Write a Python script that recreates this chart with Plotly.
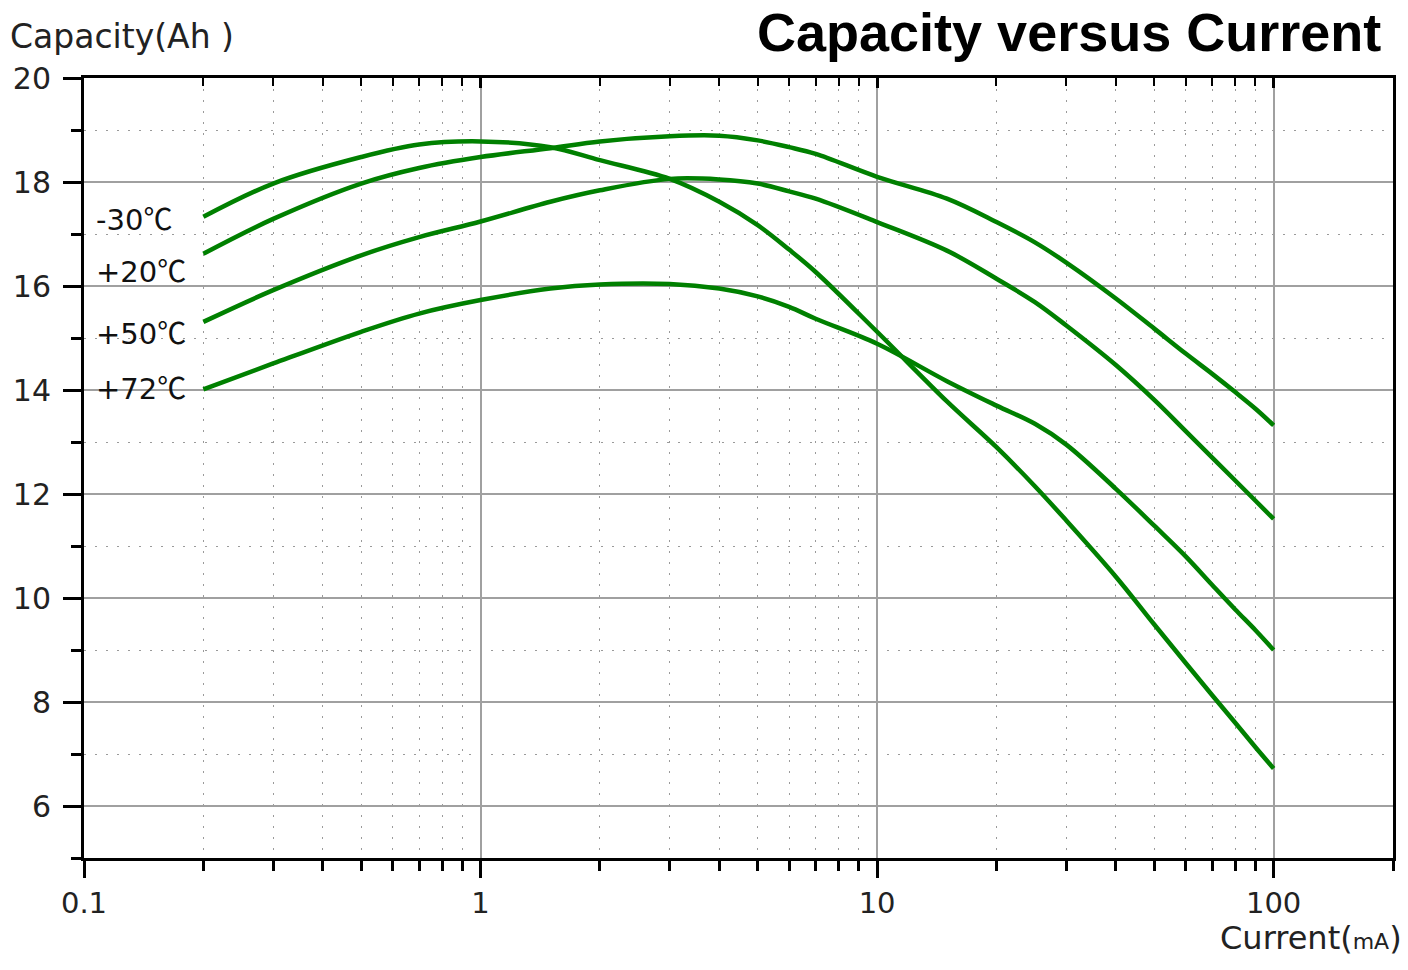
import plotly.graph_objects as go

# ---- data ----
current_mA = [0.2, 0.3, 0.5, 0.7, 1, 1.5, 2, 3, 4, 5, 6, 7, 10, 15, 20, 25, 30, 40, 50, 60, 70, 80, 90, 100]
cap_m30 = [17.33, 17.97, 18.48, 18.72, 18.78, 18.67, 18.42, 18.06, 17.62, 17.17, 16.70, 16.27, 15.12, 13.78,
           12.90, 12.15, 11.49, 10.41, 9.49, 8.75, 8.13, 7.60, 7.13, 6.72]
cap_p20 = [16.62, 17.29, 17.97, 18.27, 18.48, 18.65, 18.78, 18.88, 18.89, 18.80, 18.67, 18.54, 18.10, 17.68,
           17.23, 16.84, 16.45, 15.76, 15.18, 14.70, 14.31, 13.96, 13.64, 13.32]
cap_p50 = [15.31, 15.92, 16.59, 16.94, 17.24, 17.62, 17.84, 18.06, 18.05, 17.97, 17.82, 17.68, 17.23, 16.68,
           16.14, 15.69, 15.24, 14.48, 13.81, 13.21, 12.70, 12.26, 11.87, 11.52]
cap_p72 = [14.01, 14.51, 15.12, 15.47, 15.73, 15.95, 16.03, 16.04, 15.95, 15.80, 15.60, 15.37, 14.89, 14.17,
           13.70, 13.35, 12.95, 12.10, 11.39, 10.80, 10.25, 9.78, 9.38, 9.00]
series_names = ["-30", "+20", "+50", "+72"]
label_y = [17.33, 16.33, 15.14, 14.07]

x_major = [0.1, 1, 10, 100]
x_major_text = ["0.1", "1", "10", "100"]
x_minor = [m * d for d in (0.1, 1, 10, 100) for m in range(2, 10) if m * d <= 200] + [200]
y_major = [6, 8, 10, 12, 14, 16, 18, 20]
y_minor = [5, 7, 9, 11, 13, 15, 17, 19]

GREEN = "#008000"
FONT = "DejaVu Sans"

fig = go.Figure()
for name, vals in zip(series_names, [cap_m30, cap_p20, cap_p50, cap_p72]):
    fig.add_trace(go.Scatter(x=current_mA, y=vals, mode="lines", name=name + "℃",
                             line=dict(color=GREEN, width=4.5, shape="spline", smoothing=1.0),
                             showlegend=False, hoverinfo="skip"))

# invisible trace to activate the top (inside-tick) axis
fig.add_trace(go.Scatter(x=current_mA, y=cap_m30, xaxis="x2", mode="lines",
                         line=dict(width=0, color="rgba(0,0,0,0)"), showlegend=False, hoverinfo="skip"))

for name, yv in zip(series_names, label_y):
    fig.add_annotation(x=-0.976, y=yv, xref="x", yref="y",
                       text=name + "<span style='font-family:Noto Sans CJK SC'>℃</span>",
                       showarrow=False, xanchor="left", yanchor="middle",
                       font=dict(family=FONT, size=29, color="#111"))

fig.add_annotation(x=0.9916, y=1.0985, xref="paper", yref="paper", text="<b>Capacity versus Current</b>",
                   showarrow=False, xanchor="right", yanchor="top", borderpad=0,
                   font=dict(family="Liberation Sans", size=54, color="#000"))
fig.add_annotation(x=-0.058, y=1.053, xref="paper", yref="paper", text="Capacity(Ah )",
                   showarrow=False, xanchor="left", yanchor="middle",
                   font=dict(family=FONT, size=33, color="#222"))
fig.add_annotation(x=1.0087, y=-0.103, xref="paper", yref="paper",
                   text="Current(<span style='font-size:22px'>mA</span>)",
                   showarrow=False, xanchor="right", yanchor="middle",
                   font=dict(family=FONT, size=32, color="#222"))

axis_common = dict(showline=True, linecolor="black", linewidth=3, zeroline=False)

fig.update_layout(
    width=1408, height=970,
    margin=dict(l=84, r=15, t=78, b=112),
    paper_bgcolor="white", plot_bgcolor="white",
    xaxis=dict(type="log", range=[-1, 2.301], tickmode="array", tickvals=x_major, ticktext=x_major_text,
               ticks="outside", ticklen=17, tickwidth=3, tickcolor="black",
               showgrid=True, gridcolor="#a0a0a0", gridwidth=2, mirror=True,
               tickfont=dict(family=FONT, size=29, color="#222"), ticklabelstandoff=0,
               minor=dict(tickmode="array", tickvals=x_minor, ticks="outside", ticklen=10, tickwidth=3,
                          tickcolor="black", showgrid=True, gridcolor="#9a9a9a", gridwidth=1,
                          griddash="2px,9px"),
               **axis_common),
    xaxis2=dict(type="log", range=[-1, 2.301], overlaying="x", side="top", anchor="y",
                tickmode="array", tickvals=x_major, ticks="inside", ticklen=10, tickwidth=3,
                tickcolor="black", showticklabels=False, showgrid=False, showline=False,
                minor=dict(tickmode="array", tickvals=x_minor, ticks="inside", ticklen=8, tickwidth=2,
                           tickcolor="black", showgrid=False)),
    yaxis=dict(range=[5, 20], tickmode="array", tickvals=y_major,
               ticks="outside", ticklen=18, tickwidth=3, tickcolor="black",
               showgrid=True, gridcolor="#a0a0a0", gridwidth=2, mirror=True,
               tickfont=dict(family=FONT, size=30, color="#222"), ticklabelstandoff=6,
               minor=dict(tickmode="array", tickvals=y_minor, ticks="outside", ticklen=10, tickwidth=3,
                          tickcolor="black", showgrid=True, gridcolor="#9a9a9a", gridwidth=1,
                          griddash="2px,9px"),
               **axis_common),
)

fig.write_html("out.html")
